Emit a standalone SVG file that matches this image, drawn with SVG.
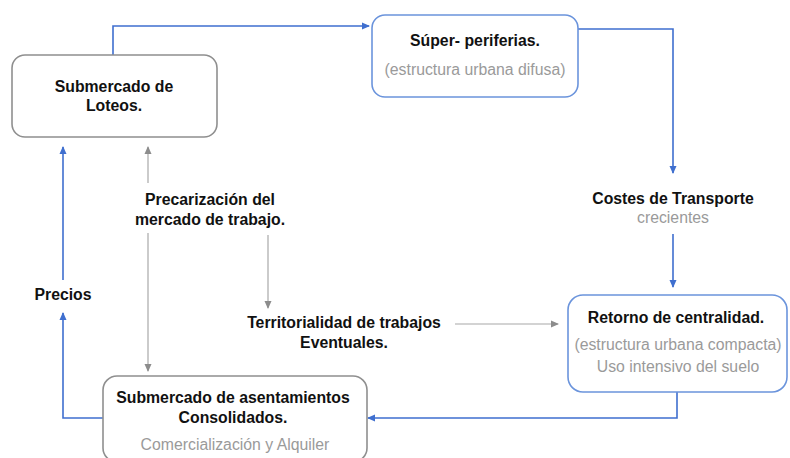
<svg xmlns="http://www.w3.org/2000/svg" width="790" height="458" viewBox="0 0 790 458">
<defs>
<marker id="ab" markerWidth="8" markerHeight="8" refX="7" refY="4" orient="auto" markerUnits="userSpaceOnUse">
<path d="M0,0.5 L8,4 L0,7.5 Z" fill="#3f6fcf"/>
</marker>
<marker id="ag" markerWidth="8" markerHeight="8" refX="7" refY="4" orient="auto" markerUnits="userSpaceOnUse">
<path d="M0,0.5 L8,4 L0,7.5 Z" fill="#8c8c8c"/>
</marker>
</defs>
<style>
.bx{fill:#fff;stroke-width:1.6}
.g{stroke:#8f8f8f}
.b{stroke:#6b94dc}
.t{font-family:"Liberation Sans",Arial,sans-serif;font-size:15.8px;font-weight:bold;fill:#111;text-anchor:middle}
.s{font-family:"Liberation Sans",Arial,sans-serif;font-size:15.8px;fill:#9a9a9a;text-anchor:middle}
.cb{fill:none;stroke:#3f6fcf;stroke-width:1.6}
.cg{fill:none;stroke:#a8a8a8;stroke-width:1.2}
</style>
<rect width="790" height="458" fill="#fff"/>
<g id="connectors">
<path class="cb" d="M113,55 V26 H369" marker-end="url(#ab)"/>
<path class="cb" d="M578,29 H673 V173" marker-end="url(#ab)"/>
<path class="cb" d="M673,234 V287" marker-end="url(#ab)"/>
<path class="cb" d="M677,392 V418 H368" marker-end="url(#ab)"/>
<path class="cb" d="M103,418 H63 V313" marker-end="url(#ab)"/>
<path class="cb" d="M63,280 V147" marker-end="url(#ab)"/>
<path class="cg" d="M148,183 V147" marker-end="url(#ag)"/>
<path class="cg" d="M148,233 V371" marker-end="url(#ag)"/>
<path class="cg" d="M268,235 V308" marker-end="url(#ag)"/>
<path class="cg" d="M455,324 H558" marker-end="url(#ag)"/>
</g>
<g id="loteos">
<rect class="bx g" x="12" y="55" width="205" height="82" rx="13"/>
<text class="t" x="114" y="92">Submercado de</text>
<text class="t" x="114" y="111">Loteos.</text>
</g>
<g id="superperiferias">
<rect class="bx b" x="372" y="15" width="206" height="82" rx="13"/>
<text class="t" x="475" y="46">Súper- periferias.</text>
<text class="s" x="475" y="75">(estructura urbana difusa)</text>
</g>
<g id="costes">
<text class="t" x="673" y="204">Costes de Transporte</text>
<text class="s" x="673" y="223">crecientes</text>
</g>
<g id="retorno">
<rect class="bx b" x="568" y="295" width="219" height="97" rx="15"/>
<text class="t" x="676" y="323">Retorno de centralidad.</text>
<text class="s" x="678" y="350">(estructura urbana compacta)</text>
<text class="s" x="678" y="372">Uso intensivo del suelo</text>
</g>
<g id="asentamientos">
<rect class="bx g" x="103" y="376" width="264" height="86" rx="14"/>
<text class="t" x="233" y="403">Submercado de asentamientos</text>
<text class="t" x="233" y="423">Consolidados.</text>
<text class="s" x="235" y="450">Comercialización y Alquiler</text>
</g>
<g id="precarizacion">
<text class="t" x="210" y="205">Precarización del</text>
<text class="t" x="210" y="225">mercado de trabajo.</text>
</g>
<g id="territorialidad">
<text class="t" x="344" y="328">Territorialidad de trabajos</text>
<text class="t" x="344" y="348">Eventuales.</text>
</g>
<g id="precios">
<text class="t" x="63" y="300">Precios</text>
</g>
</svg>
